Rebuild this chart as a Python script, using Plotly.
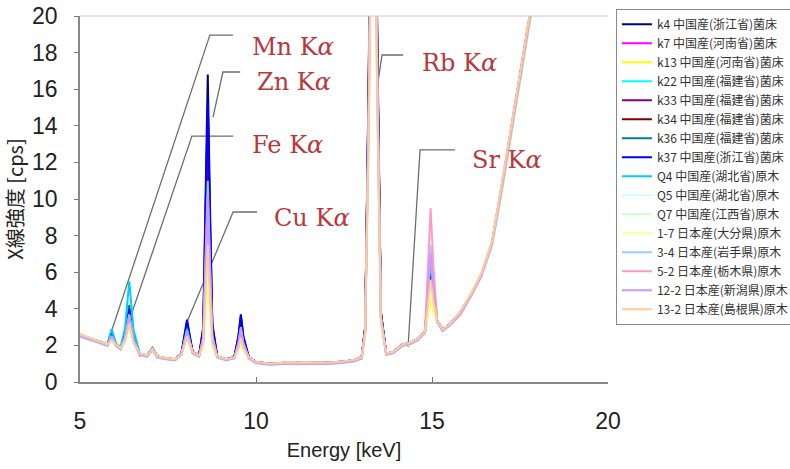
import plotly.graph_objects as go

energy = [5.0, 5.3, 5.6, 5.78, 5.9, 6.02, 6.15, 6.28, 6.4, 6.52,
          6.7, 6.9, 7.06, 7.2, 7.45, 7.7, 7.88, 8.04, 8.2, 8.38,
          8.5, 8.57, 8.63, 8.69, 8.76, 8.9, 9.15, 9.38, 9.5, 9.57,
          9.64, 9.8, 10.0, 10.4, 10.8, 11.2, 11.6, 12.0, 12.4, 12.8,
          13.0, 13.1, 13.2, 13.33, 13.45, 13.55, 13.7, 13.9, 14.16, 14.4,
          14.6, 14.8, 14.88, 14.96, 15.04, 15.15, 15.3, 15.5, 15.8, 16.1,
          16.4, 16.7, 17.0, 17.3, 17.6, 17.9]

names = ["k4 中国産(浙江省)菌床", "k7 中国産(河南省)菌床", "k13 中国産(河南省)菌床",
         "k22 中国産(福建省)菌床", "k33 中国産(福建省)菌床", "k34 中国産(福建省)菌床",
         "k36 中国産(福建省)菌床", "k37 中国産(浙江省)菌床", "Q4 中国産(湖北省)原木",
         "Q5 中国産(湖北省)原木", "Q7 中国産(江西省)原木", "1-7 日本産(大分県)原木",
         "3-4 日本産(岩手県)原木", "5-2 日本産(栃木県)原木", "12-2 日本産(新潟県)原木",
         "13-2 日本産(島根県)原木"]

colors = ["#000080", "#FF00FF", "#FFFF00", "#00FFFF", "#800080", "#800000",
          "#008080", "#0000FF", "#00CCFF", "#CCFFFF", "#CCFFCC", "#FFFF99",
          "#99CCFF", "#FF99CC", "#CC99FF", "#FFCC99"]

s_k4 = [2.5, 2.3, 2.1, 2.0, 2.6, 2.0, 1.8, 2.4, 3.8, 2.3,
        1.5, 1.4, 1.8, 1.35, 1.25, 1.2, 1.5, 3.3, 1.6, 1.4,
        3.0, 9.9, 16.8, 9.9, 3.2, 1.35, 1.2, 1.3, 2.5, 3.7,
        2.5, 1.3, 1.05, 0.95, 1.0, 1.0, 1.0, 1.0, 1.05, 1.15,
        1.3, 3.0, 16.4, 42, 18.1, 3.8, 1.5, 1.6, 2.0, 2.1,
        2.3, 2.7, 4.3, 6.0, 4.6, 3.3, 2.8, 3.1, 3.7, 4.7,
        5.8, 7.5, 10.8, 14.2, 17.7, 21.3]
s_k7 = [2.6, 2.4, 2.2, 2.05, 2.5, 2.05, 1.85, 2.4, 3.6, 2.3,
        1.55, 1.45, 1.85, 1.4, 1.3, 1.25, 1.5, 2.9, 1.6, 1.45,
        2.7, 8.1, 13.5, 8.1, 2.9, 1.4, 1.25, 1.35, 2.3, 3.3,
        2.3, 1.3, 1.1, 1.0, 1.05, 1.0, 1.05, 1.05, 1.1, 1.2,
        1.35, 2.8, 15.0, 38, 16.5, 3.6, 1.55, 1.65, 2.05, 2.15,
        2.35, 2.75, 4.1, 5.5, 4.35, 3.35, 2.85, 3.15, 3.8, 4.8,
        5.9, 7.6, 11.0, 14.4, 17.9, 21.5]
s_k13 = [2.45, 2.25, 2.1, 1.95, 2.4, 1.95, 1.8, 2.3, 3.4, 2.2,
         1.5, 1.4, 1.75, 1.35, 1.2, 1.2, 1.45, 2.6, 1.55, 1.4,
         2.35, 6.2, 10.0, 6.2, 2.4, 1.3, 1.2, 1.3, 2.05, 2.8,
         2.05, 1.3, 1.0, 0.95, 1.0, 0.95, 1.0, 1.0, 1.05, 1.15,
         1.3, 2.7, 13.9, 35, 15.3, 3.4, 1.5, 1.6, 1.95, 2.1,
         2.3, 2.7, 3.6, 4.5, 3.85, 3.3, 2.8, 3.05, 3.65, 4.6,
         5.7, 7.4, 10.6, 14.0, 17.5, 21.0]
s_k22 = [2.5, 2.3, 2.15, 2.0, 2.5, 2.0, 1.85, 2.5, 4.0, 2.4,
         1.5, 1.4, 1.8, 1.35, 1.25, 1.2, 1.5, 2.8, 1.6, 1.4,
         2.25, 5.6, 9.0, 5.6, 2.3, 1.35, 1.2, 1.3, 2.0, 2.7,
         2.0, 1.3, 1.05, 0.95, 1.0, 1.0, 1.0, 1.0, 1.05, 1.15,
         1.3, 2.7, 14.3, 36, 15.7, 3.5, 1.5, 1.6, 2.0, 2.1,
         2.3, 2.7, 4.6, 6.5, 4.85, 3.3, 2.8, 3.1, 3.7, 4.7,
         5.8, 7.5, 10.9, 14.3, 17.8, 21.4]
s_k33 = [2.55, 2.35, 2.15, 2.05, 2.7, 2.05, 1.85, 2.45, 3.9, 2.35,
         1.5, 1.45, 1.8, 1.4, 1.25, 1.25, 1.55, 3.1, 1.65, 1.45,
         2.6, 7.55, 12.5, 7.55, 2.75, 1.4, 1.25, 1.35, 2.25, 3.2,
         2.25, 1.35, 1.1, 1.0, 1.0, 1.05, 1.0, 1.05, 1.1, 1.2,
         1.35, 2.9, 15.7, 40, 17.3, 3.7, 1.55, 1.65, 2.05, 2.15,
         2.35, 2.75, 4.25, 5.8, 4.5, 3.35, 2.85, 3.15, 3.75, 4.75,
         5.85, 7.55, 10.9, 14.3, 17.8, 21.4]
s_k34 = [2.5, 2.3, 2.1, 2.0, 2.4, 2.0, 1.8, 2.35, 3.5, 2.25,
         1.45, 1.4, 1.75, 1.35, 1.25, 1.2, 1.5, 2.7, 1.6, 1.4,
         2.4, 6.45, 10.5, 6.45, 2.5, 1.35, 1.2, 1.3, 2.1, 2.9,
         2.1, 1.3, 1.05, 0.95, 1.0, 1.0, 1.0, 1.0, 1.05, 1.15,
         1.3, 2.8, 14.6, 37, 16.1, 3.5, 1.5, 1.6, 2.0, 2.1,
         2.3, 2.7, 3.95, 5.2, 4.2, 3.3, 2.8, 3.1, 3.7, 4.7,
         5.8, 7.4, 10.7, 14.1, 17.6, 21.2]
s_k36 = [2.5, 2.3, 2.1, 2.0, 2.6, 2.0, 1.85, 2.55, 4.2, 2.45,
         1.5, 1.4, 1.85, 1.35, 1.25, 1.2, 1.5, 3.0, 1.6, 1.4,
         2.3, 6.05, 9.8, 6.05, 2.4, 1.35, 1.2, 1.3, 2.05, 2.8,
         2.05, 1.3, 1.05, 0.95, 1.0, 1.0, 1.0, 1.0, 1.05, 1.15,
         1.3, 2.9, 15.3, 39, 16.9, 3.6, 1.5, 1.6, 2.0, 2.1,
         2.3, 2.7, 4.75, 6.8, 5.0, 3.3, 2.8, 3.1, 3.7, 4.7,
         5.8, 7.5, 10.8, 14.2, 17.7, 21.3]
s_k37 = [2.55, 2.35, 2.15, 2.05, 2.8, 2.05, 1.85, 2.5, 4.0, 2.4,
         1.55, 1.45, 1.85, 1.4, 1.3, 1.25, 1.55, 3.4, 1.65, 1.45,
         2.85, 9.0, 15.2, 9.0, 3.05, 1.4, 1.25, 1.35, 2.45, 3.6,
         2.45, 1.35, 1.1, 1.0, 1.05, 1.05, 1.05, 1.05, 1.1, 1.2,
         1.35, 2.95, 16.1, 41, 17.7, 3.8, 1.55, 1.65, 2.05, 2.15,
         2.35, 2.75, 4.45, 6.2, 4.7, 3.35, 2.85, 3.15, 3.75, 4.75,
         5.85, 7.55, 10.9, 14.3, 17.8, 21.4]
s_q4 = [2.6, 2.4, 2.2, 2.05, 2.9, 2.1, 1.9, 2.95, 5.5, 2.85,
        1.55, 1.45, 1.85, 1.4, 1.3, 1.25, 1.5, 2.9, 1.6, 1.4,
        2.15, 5.1, 8.0, 5.1, 2.2, 1.35, 1.2, 1.3, 1.95, 2.6,
        1.95, 1.3, 1.05, 0.95, 1.05, 1.0, 1.05, 1.0, 1.1, 1.2,
        1.3, 2.65, 13.5, 34, 14.9, 3.3, 1.5, 1.6, 2.0, 2.1,
        2.3, 2.7, 4.65, 6.6, 4.9, 3.3, 2.8, 3.1, 3.7, 4.7,
        5.8, 7.5, 10.8, 14.2, 17.7, 21.3]
s_q5 = [2.45, 2.25, 2.05, 1.95, 2.3, 1.95, 1.8, 2.25, 3.2, 2.15,
        1.45, 1.35, 1.75, 1.3, 1.2, 1.15, 1.45, 2.5, 1.55, 1.35,
        2.0, 4.25, 6.5, 4.25, 2.0, 1.3, 1.15, 1.25, 1.8, 2.3,
        1.8, 1.25, 1.0, 0.9, 0.95, 0.95, 0.95, 0.95, 1.0, 1.1,
        1.25, 2.6, 13.2, 33, 14.5, 3.3, 1.45, 1.55, 1.95, 2.05,
        2.25, 2.65, 3.85, 5.0, 4.1, 3.25, 2.75, 3.05, 3.65, 4.6,
        5.7, 7.3, 10.6, 14.0, 17.5, 21.1]
s_q7 = [2.5, 2.3, 2.1, 2.0, 2.4, 2.0, 1.8, 2.4, 3.6, 2.3,
        1.5, 1.4, 1.8, 1.35, 1.25, 1.2, 1.5, 2.6, 1.6, 1.4,
        2.05, 4.5, 7.0, 4.5, 2.05, 1.35, 1.2, 1.3, 1.85, 2.4,
        1.85, 1.3, 1.05, 0.95, 1.0, 1.0, 1.0, 1.0, 1.05, 1.15,
        1.3, 2.7, 13.9, 35, 15.3, 3.4, 1.5, 1.6, 2.0, 2.1,
        2.3, 2.7, 4.05, 5.4, 4.3, 3.3, 2.8, 3.1, 3.7, 4.7,
        5.8, 7.5, 10.8, 14.2, 17.7, 21.3]
s_1_7 = [2.6, 2.4, 2.15, 2.05, 2.3, 2.0, 1.85, 2.2, 3.1, 2.1,
         1.55, 1.45, 1.8, 1.4, 1.3, 1.25, 1.5, 2.4, 1.6, 1.45,
         1.9, 3.7, 5.5, 3.7, 1.9, 1.4, 1.25, 1.3, 1.75, 2.2,
         1.75, 1.3, 1.1, 1.0, 1.05, 1.05, 1.05, 1.05, 1.1, 1.2,
         1.35, 2.6, 12.8, 32, 14.1, 3.2, 1.55, 1.65, 2.05, 2.15,
         2.35, 2.75, 3.75, 4.8, 4.0, 3.35, 2.85, 3.15, 3.75, 4.8,
         5.9, 7.6, 11.0, 14.4, 17.9, 21.5]
s_3_4 = [2.5, 2.3, 2.1, 2.0, 2.5, 2.0, 1.8, 2.4, 3.7, 2.3,
         1.5, 1.4, 1.8, 1.35, 1.25, 1.2, 1.5, 2.8, 1.6, 1.4,
         2.45, 6.7, 11.0, 6.7, 2.55, 1.35, 1.2, 1.3, 2.15, 3.0,
         2.15, 1.3, 1.05, 0.95, 1.0, 1.0, 1.0, 1.0, 1.05, 1.15,
         1.3, 2.8, 15.0, 38, 16.5, 3.6, 1.5, 1.6, 2.0, 2.1,
         2.3, 2.7, 5.1, 7.5, 5.35, 3.3, 2.8, 3.1, 3.7, 4.7,
         5.8, 7.5, 10.8, 14.2, 17.7, 21.3]
s_5_2 = [2.55, 2.35, 2.15, 2.0, 2.4, 2.0, 1.8, 2.3, 3.3, 2.2,
         1.5, 1.4, 1.8, 1.35, 1.25, 1.2, 1.5, 2.5, 1.6, 1.4,
         2.2, 5.35, 8.5, 5.35, 2.25, 1.35, 1.2, 1.3, 1.95, 2.6,
         1.95, 1.3, 1.05, 0.95, 1.0, 1.0, 1.0, 1.0, 1.05, 1.15,
         1.3, 2.7, 14.3, 36, 15.7, 3.5, 1.5, 1.6, 2.0, 2.1,
         2.3, 2.7, 6.1, 9.5, 6.35, 3.3, 2.8, 3.1, 3.7, 4.7,
         5.8, 7.5, 10.8, 14.2, 17.7, 21.3]
s_12_2 = [2.5, 2.3, 2.1, 2.0, 2.5, 2.0, 1.8, 2.4, 3.6, 2.3,
          1.5, 1.4, 1.8, 1.35, 1.25, 1.2, 1.5, 2.7, 1.6, 1.4,
          2.4, 6.3, 10.2, 6.3, 2.45, 1.35, 1.2, 1.3, 2.1, 2.9,
          2.1, 1.3, 1.05, 0.95, 1.0, 1.0, 1.0, 1.0, 1.05, 1.15,
          1.3, 2.8, 14.6, 37, 16.1, 3.5, 1.5, 1.6, 2.0, 2.1,
          2.3, 2.7, 4.85, 7.0, 5.1, 3.3, 2.8, 3.1, 3.7, 4.7,
          5.8, 7.5, 10.8, 14.2, 17.7, 21.3]
s_13_2 = [2.6, 2.4, 2.2, 2.05, 2.3, 2.05, 1.85, 2.25, 3.2, 2.15,
          1.55, 1.45, 1.8, 1.4, 1.3, 1.25, 1.5, 2.5, 1.65, 1.45,
          2.1, 4.8, 7.5, 4.8, 2.1, 1.4, 1.25, 1.35, 1.85, 2.4,
          1.85, 1.35, 1.1, 1.0, 1.05, 1.05, 1.05, 1.05, 1.1, 1.2,
          1.35, 2.65, 13.5, 34, 14.9, 3.3, 1.55, 1.65, 2.05, 2.15,
          2.35, 2.75, 4.15, 5.6, 4.4, 3.35, 2.85, 3.15, 3.8, 4.8,
          5.9, 7.6, 11.0, 14.4, 17.9, 21.5]

series = [s_k4, s_k7, s_k13, s_k22, s_k33, s_k34, s_k36, s_k37,
          s_q4, s_q5, s_q7, s_1_7, s_3_4, s_5_2, s_12_2, s_13_2]

# peak labels: text, label anchor (x, y), leader polyline (xs, ys)
peak_labels = ["Mn K<i>α</i>", "Zn K<i>α</i>", "Fe K<i>α</i>",
               "Cu K<i>α</i>", "Rb K<i>α</i>", "Sr K<i>α</i>"]
label_x = [9.83, 9.97, 9.83, 10.45, 14.66, 16.08]
label_y = [18.3, 16.39, 12.95, 8.96, 17.43, 12.13]
leader_x = [[9.35, 8.69, 5.85], [9.55, 9.06, 8.78], [9.35, 8.18, 6.28],
            [10.03, 9.35, 8.04], [14.18, 13.58, 13.44], [15.65, 14.66, 14.32]]
leader_y = [[18.96, 18.96, 2.51], [16.94, 16.94, 14.48], [13.44, 13.44, 2.68],
            [9.29, 9.29, 3.28], [17.87, 17.87, 16.07], [12.68, 12.68, 1.91]]

fig = go.Figure()

# leader lines
for lx, ly in zip(leader_x, leader_y):
    fig.add_trace(go.Scatter(x=lx, y=ly, mode="lines", showlegend=False,
                             hoverinfo="skip",
                             line=dict(color="#6e6e6e", width=1.3)))

for name, col, ys in zip(names, colors, series):
    fig.add_trace(go.Scatter(x=energy, y=ys, mode="lines", name=name,
                             line=dict(color=col, width=2)))

for t, x, y in zip(peak_labels, label_x, label_y):
    fig.add_annotation(x=x, y=y, text=t, showarrow=False, xanchor="left",
                       yanchor="middle",
                       font=dict(family="DejaVu Serif", size=24, color="#b8383c"))

fig.add_shape(type="line", xref="paper", yref="paper", x0=0, x1=1, y0=1, y1=1,
              line=dict(color="#cccccc", width=1))

fig.update_layout(
    width=790, height=469,
    margin=dict(l=80, r=182, t=16, b=87, autoexpand=False),
    paper_bgcolor="white", plot_bgcolor="white",
    showlegend=True,
    legend=dict(x=1.015, y=1.02, xanchor="left", yanchor="top",
                bgcolor="white", bordercolor="#8a8a8a", borderwidth=1,
                font=dict(family="Noto Sans CJK JP", size=12, color="#333333"),
                tracegroupgap=0, itemwidth=30, maxheight=420),
    xaxis=dict(range=[5, 20], tickvals=[5, 10, 15, 20], ticks="inside",
               ticklen=5, tickcolor="#777777", showline=True,
               linecolor="#888888", linewidth=1.5, showgrid=False, zeroline=False,
               tickfont=dict(family="Liberation Sans", size=23, color="#222222"),
               ticklabelstandoff=18,
               title=dict(text="Energy [keV]", standoff=10,
                          font=dict(family="Liberation Sans", size=20, color="#222222"))),
    yaxis=dict(range=[0, 20], dtick=2, ticks="outside", ticklen=4,
               tickcolor="#777777", showline=True, linecolor="#888888",
               linewidth=1.5, showgrid=False, zeroline=False,
               tickfont=dict(family="Liberation Sans", size=23, color="#222222"),
               ticklabelstandoff=12,
               title=dict(text="X線強度 [cps]", standoff=8,
                          font=dict(family="Noto Sans CJK JP", size=20, color="#222222"))),
)

fig.write_html("out.html")
